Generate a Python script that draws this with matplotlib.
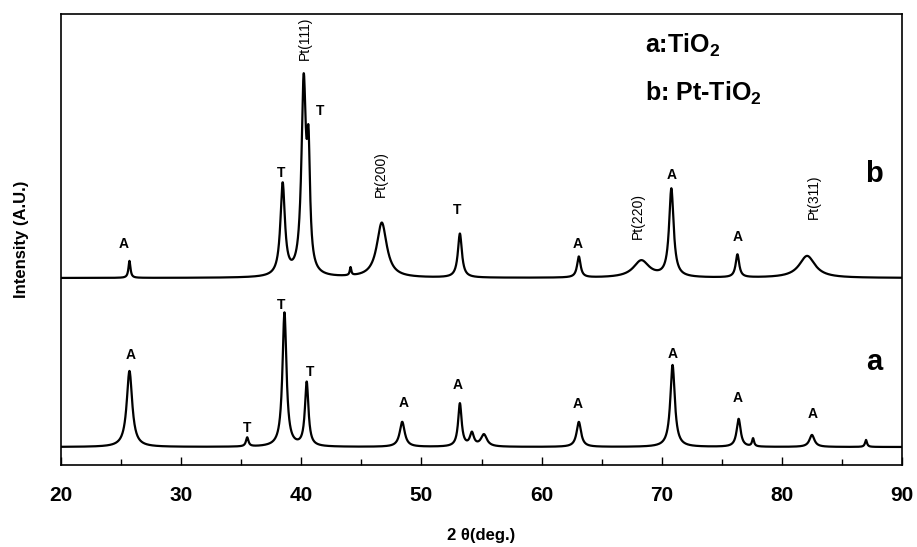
import matplotlib
matplotlib.use("Agg")
import matplotlib.pyplot as plt
import numpy as np

plt.rcParams['font.family'] = ['Liberation Sans', 'DejaVu Sans']
plt.rcParams['mathtext.fontset'] = 'custom'
plt.rcParams['mathtext.rm'] = 'Liberation Sans'
plt.rcParams['mathtext.bf'] = 'Liberation Sans:bold'

# peak tables (2theta, height above baseline, fwhm)
a_base = 18
a_pos = [25.7, 35.5, 38.6, 40.45, 48.4, 53.2, 54.2, 55.2, 63.1, 70.9, 76.4, 77.6, 82.5, 87.0]
a_height = [76, 9, 134, 64, 25, 43, 13, 12, 25, 82, 28, 8, 12, 7]
a_width = [0.55, 0.25, 0.4, 0.35, 0.5, 0.35, 0.4, 0.6, 0.45, 0.45, 0.4, 0.2, 0.5, 0.2]

b_base = 187
b_pos = [25.7, 38.45, 40.2, 40.6, 46.7, 53.2, 63.1, 68.3, 70.8, 76.3, 82.1, 44.1]
b_height = [17, 92, 190, 105, 55, 44, 21, 17, 88, 23, 22, 8]
b_width = [0.2, 0.45, 0.45, 0.3, 1.0, 0.4, 0.35, 1.6, 0.45, 0.35, 1.6, 0.15]

# peak labels: (2theta, y, text)
b_labels = [(25.2, 221, 'A'), (38.3, 292, 'T'), (41.6, 354, 'T'), (53.0, 255, 'T'),
            (63.0, 221, 'A'), (70.8, 290, 'A'), (76.3, 228, 'A')]
b_pt = [(40.3, 427, 'Pt(111)'), (46.6, 291, 'Pt(200)'), (68.0, 249, 'Pt(220)'), (82.7, 268, 'Pt(311)')]
a_labels = [(25.8, 110, 'A'), (35.5, 37, 'T'), (38.3, 160, 'T'), (40.7, 93, 'T'), (48.5, 62, 'A'),
            (53.0, 80, 'A'), (63.0, 61, 'A'), (70.9, 111, 'A'), (76.3, 67, 'A'), (82.6, 51, 'A')]


def profile(x, base, pos, height, width):
    y = np.full_like(x, float(base))
    for p, h, w in zip(pos, height, width):
        y += h / (1 + ((x - p) / (w / 2)) ** 2)
    return y


tt = np.arange(20, 90.01, 0.02)

fig = plt.figure(figsize=(9.17, 5.47), dpi=100)
ax = fig.add_axes([0.0665, 0.1499, 0.9172, 0.8245])

ax.plot(tt, profile(tt, a_base, a_pos, a_height, a_width), color='black', lw=1.6)
ax.plot(tt, profile(tt, b_base, b_pos, b_height, b_width), color='black', lw=1.6)

for x, y, s in a_labels + b_labels:
    ax.text(x, y, s, ha='center', va='center', fontsize=10, fontweight='bold')
for x, y, s in b_pt:
    ax.text(x, y, s, ha='center', va='center', fontsize=10, rotation=90)

ax.text(87.7, 465 - 174, 'b', ha='center', va='center', fontsize=21, fontweight='bold')
ax.text(87.7, 465 - 362, 'a', ha='center', va='center', fontsize=21, fontweight='bold')
ax.text(68.6, 465 - 45, r'a:TiO$_\mathbf{2}$', ha='left', va='center', fontsize=18, fontweight='bold')
ax.text(68.6, 465 - 93, r'b: Pt-TiO$_\mathbf{2}$', ha='left', va='center', fontsize=18, fontweight='bold')

ax.set_xlim(20, 90)
ax.set_ylim(0, 451)
ax.set_xticks(np.arange(20, 91, 10))
ax.set_xticks(np.arange(25, 90, 10), minor=True)
ax.set_yticks([])
ax.tick_params(axis='x', which='major', direction='in', length=6, width=1, pad=15,
               labelsize=15)
ax.tick_params(axis='x', which='minor', direction='in', length=4, width=1)
for lbl in ax.get_xticklabels():
    lbl.set_fontweight('bold')
for sp in ax.spines.values():
    sp.set_linewidth(1.2)

ax.set_xlabel('2 θ(deg.)', fontsize=12, fontweight='bold', labelpad=17)
ax.set_ylabel('Intensity (A.U.)', fontsize=12, fontweight='bold', labelpad=23)

fig.savefig('out.png', dpi=100)
